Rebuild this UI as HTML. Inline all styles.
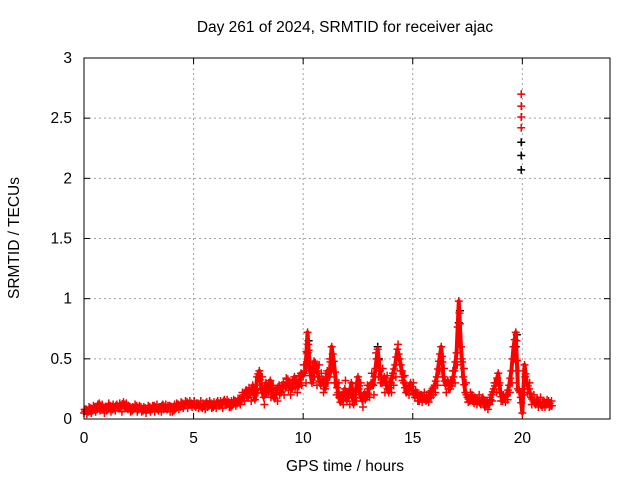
<!DOCTYPE html>
<html><head><meta charset="utf-8"><style>
body{margin:0;background:#fff}
svg{font-family:"Liberation Sans",sans-serif;font-size:15.5px}
</style></head><body>
<svg width="640" height="480" id="c">
<rect width="640" height="480" fill="#fff"/>
<text x="345" y="32" text-anchor="middle">Day 261 of 2024, SRMTID for receiver ajac</text>
<text x="345" y="471" text-anchor="middle">GPS time / hours</text>
<text transform="translate(19,238) rotate(-90)" text-anchor="middle">SRMTID / TECUs</text>
<g id="grid"></g>
<g id="ticks"></g>
<g id="marks"></g>
<rect x="84" y="58" width="526" height="361" fill="none" stroke="#000" stroke-width="1"/>
</svg>
<script>
const xTicks=[0,5,10,15,20];
const yTicks=[0,0.5,1,1.5,2,2.5,3];
const yTickLabels=["0","0.5","1","1.5","2","2.5","3"];
const startHour=0, stepHours=0.1;
const srmtid=[
0.05,0.08,0.06,0.09,0.07,0.10,0.08,0.13,0.09,0.08,
0.10,0.09,0.11,0.08,0.10,0.12,0.09,0.11,0.14,0.10,
0.08,0.10,0.07,0.09,0.11,0.08,0.10,0.07,0.09,0.08,
0.10,0.08,0.11,0.09,0.07,0.10,0.12,0.09,0.08,0.11,
0.10,0.07,0.09,0.12,0.10,0.13,0.11,0.14,0.12,0.13,
0.12,0.10,0.13,0.11,0.09,0.12,0.14,0.11,0.13,0.10,
0.12,0.15,0.11,0.13,0.16,0.12,0.14,0.10,0.12,0.15,
0.13,0.17,0.15,0.20,0.24,0.18,0.22,0.28,0.16,0.35,
0.40,0.25,0.18,0.30,0.22,0.32,0.20,0.17,0.25,0.28,
0.22,0.30,0.26,0.33,0.28,0.25,0.35,0.31,0.27,0.38,
0.36,0.40,0.72,0.42,0.30,0.48,0.45,0.35,0.28,0.33,
0.25,0.40,0.35,0.60,0.48,0.30,0.22,0.14,0.18,0.25,
0.15,0.20,0.30,0.12,0.24,0.35,0.20,0.15,0.22,0.18,
0.25,0.30,0.28,0.42,0.58,0.40,0.30,0.35,0.28,0.22,
0.30,0.38,0.45,0.58,0.50,0.40,0.30,0.22,0.25,0.30,
0.24,0.18,0.22,0.15,0.20,0.18,0.15,0.17,0.22,0.25,
0.28,0.35,0.48,0.60,0.35,0.28,0.32,0.25,0.30,0.40,
0.55,0.98,0.60,0.35,0.22,0.18,0.15,0.20,0.13,0.17,
0.15,0.12,0.18,0.10,0.14,0.12,0.20,0.25,0.30,0.38,
0.22,0.15,0.18,0.20,0.28,0.40,0.60,0.72,0.25,0.22,
0.05,0.45,0.30,0.25,0.18,0.15,0.12,0.16,0.13,0.10,
0.14,0.12,0.15,0.11];
const srmtidAlt=[
0.08,0.04,0.10,0.05,0.11,0.06,0.12,0.07,0.12,0.05,
0.07,0.13,0.06,0.12,0.07,0.09,0.13,0.06,0.09,0.13,
0.11,0.06,0.10,0.12,0.06,0.11,0.06,0.10,0.05,0.11,
0.06,0.11,0.06,0.12,0.10,0.06,0.08,0.12,0.11,0.06,
0.06,0.12,0.13,0.08,0.14,0.09,0.15,0.09,0.15,0.10,
0.15,0.13,0.09,0.15,0.13,0.08,0.10,0.15,0.09,0.14,
0.09,0.11,0.15,0.09,0.12,0.16,0.10,0.15,0.16,0.11,
0.17,0.12,0.22,0.15,0.18,0.26,0.15,0.20,0.24,0.22,
0.28,0.35,0.12,0.22,0.30,0.18,0.28,0.24,0.15,0.20,
0.28,0.20,0.34,0.24,0.20,0.32,0.26,0.22,0.36,0.28,
0.45,0.30,0.62,0.48,0.38,0.35,0.28,0.45,0.38,0.22,
0.35,0.30,0.50,0.42,0.30,0.20,0.30,0.20,0.12,0.32,
0.22,0.12,0.18,0.22,0.15,0.25,0.30,0.10,0.16,0.28,
0.18,0.38,0.20,0.55,0.35,0.30,0.42,0.22,0.36,0.30,
0.22,0.28,0.35,0.62,0.40,0.32,0.36,0.28,0.20,0.24,
0.30,0.24,0.15,0.20,0.14,0.22,0.20,0.14,0.18,0.20,
0.22,0.28,0.40,0.52,0.42,0.22,0.25,0.32,0.40,0.30,
0.45,0.88,0.50,0.42,0.30,0.14,0.22,0.15,0.18,0.12,
0.20,0.16,0.12,0.15,0.08,0.18,0.15,0.30,0.22,0.28,
0.15,0.20,0.14,0.16,0.22,0.30,0.50,0.65,0.40,0.18,
0.20,0.35,0.22,0.30,0.12,0.20,0.16,0.10,0.18,0.14,
0.10,0.16,0.10,0.15];
const spikeHour=19.95;
const spikeRed=[2.42,2.51,2.60,2.70];
const spikeBlack=[2.07,2.19,2.30];
const blackHours=[10.2,10.25,13.4,13.45,17.1,17.15,19.7,19.75];
const blackValues=[0.55,0.65,0.6,0.5,0.8,0.9,0.6,0.7];

const X=h=>84+h*526/24, Y=v=>419-v*361/3;
const NS="http://www.w3.org/2000/svg";
const grid=document.getElementById('grid'),ticks=document.getElementById('ticks'),marks=document.getElementById('marks');
function mk(tag,attrs,parent){const e=document.createElementNS(NS,tag);for(const k in attrs)e.setAttribute(k,attrs[k]);parent.appendChild(e);return e;}
xTicks.forEach(t=>{
  const x=X(t);
  if(t>0){const g=mk('line',{x1:x,x2:x,y1:58,y2:419,stroke:'#a0a0a0','stroke-dasharray':'2,3'},grid);
  
  }
  mk('line',{x1:x,x2:x,y1:419,y2:413,stroke:'#000'},ticks);
  mk('line',{x1:x,x2:x,y1:58,y2:64,stroke:'#000'},ticks);
  const l=mk('text',{x:x,y:443,'text-anchor':'middle'},ticks);l.textContent=t;
  
  
});
yTicks.forEach((t,i)=>{
  const y=Y(t);
  if(t>0&&t<3){const g=mk('line',{x1:84,x2:610,y1:y,y2:y,stroke:'#a0a0a0','stroke-dasharray':'2,3'},grid);
  
  }
  mk('line',{x1:84,x2:90,y1:y,y2:y,stroke:'#000'},ticks);
  mk('line',{x1:610,x2:604,y1:y,y2:y,stroke:'#000'},ticks);
  const l=mk('text',{x:72,y:y+5,'text-anchor':'end'},ticks);l.textContent=yTickLabels[i];
  
  
});
function plus(h,v,col){
  const x=X(h),y=Y(v);
  const p=mk('path',{d:`M${x-4},${y}h8M${x},${y-4}v8`,stroke:col,'stroke-width':1.5,fill:'none'},marks);
  
  
}
blackHours.forEach((h,i)=>plus(h,blackValues[i],'#000'));
let d='';
srmtid.forEach((v,i)=>{d+=(i?'L':'M')+X(startHour+i*stepHours)+','+Y(v);});
const pl=mk('path',{d:d,stroke:'#f00','stroke-width':4,fill:'none','stroke-linejoin':'round'},marks);


srmtid.forEach((v,i)=>{const h=startHour+i*stepHours;plus(h,v,'#f00');plus(h+0.05,(v+(srmtid[i+1]??v))/2,'#f00');});
srmtidAlt.forEach((v,i)=>{plus(startHour+i*stepHours+0.03,v,'#f00');});
spikeBlack.forEach(v=>plus(spikeHour,v,'#000'));
spikeRed.forEach(v=>plus(spikeHour,v,'#f00'));
</script>
</body></html>
